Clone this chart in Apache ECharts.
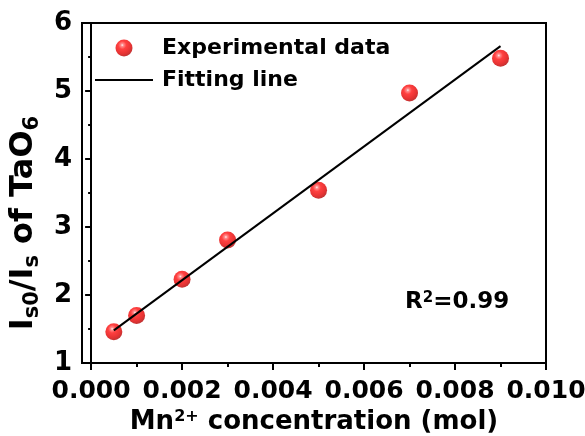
<!DOCTYPE html>
<html>
<head>
<meta charset="utf-8">
<script src="https://cdn.jsdelivr.net/npm/echarts@6/dist/echarts.min.js"></script>
<style>html,body{margin:0;padding:0;background:#fff}#c{width:585px;height:436px}</style>
</head>
<body>
<div id="c"></div>
<script>
// Data
const concentration = [0.0005, 0.001, 0.002, 0.003, 0.005, 0.007, 0.009];
const ratio = [1.46, 1.70, 2.23, 2.81, 3.54, 4.97, 5.48];
const fitX = [0.0005, 0.009];
const fitY = [1.48, 5.66];
const xTickValues = [0, 0.002, 0.004, 0.006, 0.008, 0.010];
const xMinorTickValues = [0.001, 0.003, 0.005, 0.007, 0.009];
const yTickLabels = ['1', '2', '3', '4', '5', '6'];
const rSquaredText = '0.99';

const FONT = 'DejaVu Sans';
const chart = echarts.init(document.getElementById('c'), null, {renderer: 'canvas'});

const sphere = {
  type: 'radial', x: 0.4, y: 0.33, r: 0.68,
  colorStops: [
    {offset: 0, color: '#fff0f0'},
    {offset: 0.12, color: '#ff7070'},
    {offset: 0.35, color: '#ff1010'},
    {offset: 0.75, color: '#e00000'},
    {offset: 1, color: '#b00000'}
  ]
};

const option = {
  animation: false,
  backgroundColor: '#fff',
  grid: {left: 82, right: 39, top: 23, bottom: 73, show: true, borderColor: '#000', borderWidth: 2,
    containLabel: false, outerBoundsMode: 'none'},
  legend: {
    orient: 'vertical', left: 95, top: 37, padding: 0, itemWidth: 58, itemHeight: 17, itemGap: 10,
    textStyle: {fontFamily: FONT, fontWeight: 'bold', fontSize: 22, color: '#000', lineHeight: 22, padding: [0, 0, 0, 4]},
    data: [
      {name: 'Experimental data'},
      {name: 'Fitting line', icon: 'path://M0,0L58,0L58,2L0,2Z', itemStyle: {color: '#000'}}
    ]
  },
  xAxis: [{
    type: 'value', min: -0.0002, max: 0.010,
    name: 'Mn{sup|2+} concentration (mol)', nameLocation: 'middle', nameGap: 43,
    nameTextStyle: {fontFamily: FONT, fontWeight: 'bold', fontSize: 26, color: '#000',
      rich: {sup: {fontFamily: FONT, fontWeight: 'bold', fontSize: 16, color: '#000', verticalAlign: 'top'}}},
    axisLine: {show: true, lineStyle: {color: '#000', width: 2}},
    axisTick: {show: true, inside: false, length: 7, lineStyle: {color: '#000', width: 2}, customValues: xTickValues},
    axisLabel: {show: true, customValues: xTickValues, margin: 16, fontFamily: FONT, fontWeight: 'bold', fontSize: 25, color: '#000',
      formatter: v => v.toFixed(3)},
    splitLine: {show: false}
  }, {
    type: 'value', min: -0.0002, max: 0.010, position: 'bottom', gridIndex: 0,
    axisLine: {show: false},
    axisTick: {show: true, inside: false, length: 4, lineStyle: {color: '#000', width: 2}, customValues: xMinorTickValues},
    axisLabel: {show: false},
    splitLine: {show: false}
  }],
  yAxis: {
    type: 'value', min: 1, max: 6, interval: 1,
    name: 'I{sub|s0}/I{sub|s} of TaO{sub|6}', nameLocation: 'middle', nameRotate: 90, nameGap: 36,
    nameTextStyle: {fontFamily: FONT, fontWeight: 'bold', fontSize: 32, color: '#000', lineHeight: 38, padding: [0, 60, 0, 0],
      rich: {sub: {fontFamily: FONT, fontWeight: 'bold', fontSize: 21, color: '#000', verticalAlign: 'bottom', lineHeight: 21}}},
    axisLine: {show: true, lineStyle: {color: '#000', width: 2}},
    axisTick: {show: true, inside: false, length: 6, lineStyle: {color: '#000', width: 2}},
    minorTick: {show: true, splitNumber: 2, length: 3, lineStyle: {color: '#000', width: 2}},
    axisLabel: {margin: 10, fontFamily: FONT, fontWeight: 'bold', fontSize: 26, color: '#000',
      formatter: v => yTickLabels[Math.round(v) - 1]},
    splitLine: {show: false}
  },
  series: [{
    name: 'Experimental data', type: 'scatter', symbol: 'circle', symbolSize: 17, z: 2,
    itemStyle: {color: sphere},
    data: concentration.map((x, i) => [x, ratio[i]])
  }, {
    name: 'Fitting line', type: 'line', symbol: 'none', z: 3,
    lineStyle: {color: '#000', width: 2}, itemStyle: {color: '#000'},
    data: fitX.map((x, i) => [x, fitY[i]])
  }],
  graphic: [{
    type: 'text', left: 405, top: 291, z: 10,
    style: {
      text: 'R{sup|2}=' + rSquaredText,
      fontFamily: FONT, fontWeight: 'bold', fontSize: 23, fill: '#000',
      rich: {sup: {fontFamily: FONT, fontWeight: 'bold', fontSize: 15, fill: '#000', verticalAlign: 'top'}}
    }
  }]
};
chart.setOption(option);
</script>
</body>
</html>
